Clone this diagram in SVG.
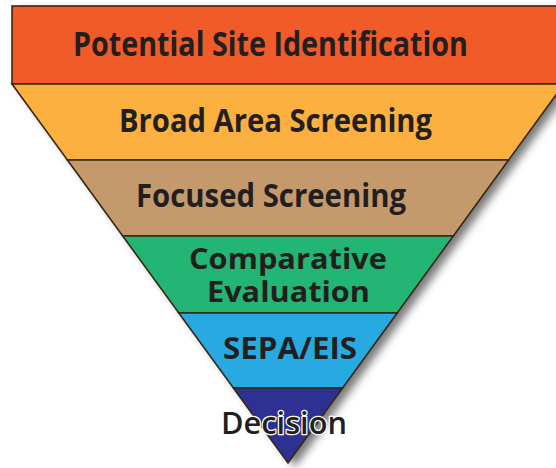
<svg xmlns="http://www.w3.org/2000/svg" width="556" height="468" viewBox="0 0 556 468">
  <defs>
    <filter id="drop" x="-10%" y="-10%" width="130%" height="130%">
      <feGaussianBlur stdDeviation="4"/>
    </filter>
    <style>
      .band { stroke: #3a2614; stroke-width: 1.6; stroke-linejoin: miter; }
      .label { font-family: "Open Sans", "Liberation Sans", sans-serif; font-weight: 700; fill: #231f20; text-anchor: middle; }
      .halo { font-weight: 600; stroke: #ffffff; stroke-width: 2.5; paint-order: stroke; stroke-linejoin: round; }
    </style>
  </defs>
  <rect width="556" height="468" fill="#ffffff"/>

  <!-- soft shadow behind the funnel -->
  <path d="M12 6 H564 V84 L288 463 L12 84 Z" transform="translate(7 4)" fill="#4d4d4d" opacity="0.75" filter="url(#drop)"/>

  <g id="potential-site-identification">
    <rect class="band" x="12" y="6" width="552" height="78" fill="#f15a29"/>
    <text class="label" x="270.5" y="56" font-size="34" textLength="395" lengthAdjust="spacingAndGlyphs">Potential Site Identification</text>
  </g>

  <g id="broad-area-screening">
    <path class="band" d="M12 84 H564 L508.6 160 H67.4 Z" fill="#fbb040"/>
    <text class="label" x="275.5" y="132" font-size="33" textLength="313" lengthAdjust="spacingAndGlyphs">Broad Area Screening</text>
  </g>

  <g id="focused-screening">
    <path class="band" d="M67.4 160 H508.6 L453.3 236 H122.7 Z" fill="#c49a6c"/>
    <text class="label" x="271" y="207" font-size="32" textLength="270" lengthAdjust="spacingAndGlyphs">Focused Screening</text>
  </g>

  <g id="comparative-evaluation">
    <path class="band" d="M122.7 236 H453.3 L397.2 313 H178.8 Z" fill="#23b574"/>
    <text class="label" x="288" y="269" font-size="29" textLength="198" lengthAdjust="spacingAndGlyphs">Comparative</text>
    <text class="label" x="288.5" y="302" font-size="29" textLength="163" lengthAdjust="spacingAndGlyphs">Evaluation</text>
  </g>

  <g id="sepa-eis">
    <path class="band" d="M178.8 313 H397.2 L342.6 388 H233.4 Z" fill="#27aae1"/>
    <text class="label" x="290" y="359" font-size="30" textLength="134" lengthAdjust="spacingAndGlyphs">SEPA/EIS</text>
  </g>

  <g id="decision">
    <path class="band" d="M233.4 388 H342.6 L288 463 Z" fill="#2e3192"/>
    <text class="label halo" x="284" y="434" font-size="31" textLength="126" lengthAdjust="spacingAndGlyphs">Decision</text>
  </g>

  <g id="connectors"/>
</svg>
